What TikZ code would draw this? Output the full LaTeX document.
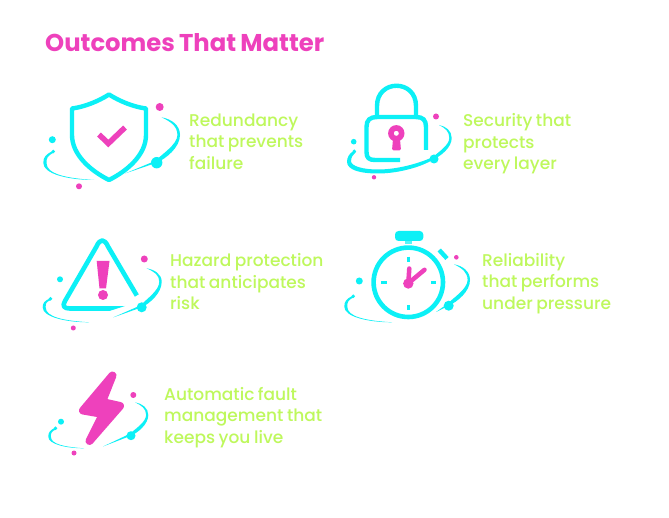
\documentclass[tikz,border=0pt]{standalone}
\usepackage{fontspec}
\setmainfont{Poppins Medium}[BoldFont={Poppins Bold},WordSpace=0.8]
\definecolor{cyanx}{HTML}{0CF0F6}
\definecolor{magx}{HTML}{EE41BC}
\definecolor{limex}{HTML}{BEF85C}
\newcommand\leftsw[7]{%
 \fill[cyanx] (#1,#2) .. controls ({#3+.25*(#1-#3)},{#2+.3*(#4-#2)}) and (#3,{#4-.5*(#4-#2)}) .. (#3,#4)
 .. controls (#3,{#4+.65*(#6-#4)}) and ({#3+.5*(#5-#3)},#6) .. (#5,#6)
 .. controls ({#3+.45*(#5-#3)},{#6-#7*.55}) and ({#3+#7},{#4+.65*(#6-#4)}) .. ({#3+#7},#4)
 .. controls ({#3+#7},{#4-.4*(#4-#2)}) and ({#3+.4*(#1-#3)},{#2+.4*(#4-#2)}) .. ({#1+1.5},{#2+1.5}) -- cycle;
 \fill[cyanx] ({#1+.5},{#2+.5}) circle[radius=1.9];}
\newcommand\rightsw[9]{%
 \fill[cyanx] (#1,#2) .. controls ({#3-.45*(#3-#1)},{#2+.1*(#4-#2)}) and (#3,{#4-.55*(#4-#2)}) .. (#3,#4)
 .. controls (#3,{#4+.45*(#6-#4)}) and ({#5+.4*(#3-#5)},{#6-.15*(#6-#4)}) .. (#5,#6)
 -- (#7,#8) -- ({#5-1},{#6-2})
 .. controls ({#5+.2*(#3-#5)},{#6-.3*(#6-#4)}) and ({#3-#9},{#4+.35*(#6-#4)}) .. ({#3-#9},#4)
 .. controls ({#3-#9},{#4-.5*(#4-#2)}) and ({#3-.5*(#3-#1)},{#2+.25*(#4-#2)}) .. (#1,#2) -- cycle;}
\tikzset{
 cy/.style={draw=cyanx,line width=4.2pt,line cap=round,line join=round},
 mg/.style={draw=magx,line cap=round,line join=round},
 lab/.style={text=limex,anchor=north west,align=left,inner sep=0pt,font=\fontsize{17}{21.6}\selectfont},
 dotc/.style={fill=cyanx},
 dotm/.style={fill=magx}
}
\begin{document}
\begin{tikzpicture}[x=1pt,y=-1pt]
\useasboundingbox (0,0) rectangle (669,518);
\fill[white] (0,0) rectangle (669,518);
\node[anchor=base west,inner sep=0pt,text=magx,font=\bfseries\fontsize{24.3}{28}\selectfont] (title) at (45,51.5) {Outcomes That Matter};

% shield
\draw[cy,line width=4.4pt] (109,94.5) .. controls (120,101.5) and (134,107) .. (146,108.5) -- (146,135)
 .. controls (146,155) and (127,171) .. (109,180) .. controls (91,171) and (72,155) .. (72,135) -- (72,108.5)
 .. controls (84,107) and (98,101.5) .. cycle;
\draw[mg,line width=5.5pt,line cap=butt,line join=miter] (99,134.5) -- (108.3,143.5) -- (125,127.5);
\leftsw{52.7}{151}{43.3}{163}{94}{180}{3.2}
\rightsw{161.5}{117.3}{180}{135}{156.7}{162.7}{125}{173.5}{2.6}
\fill[dotc] (156.7,162.7) circle[radius=5.7];
\fill[dotm] (159.7,107) circle[radius=4];
\fill[dotc] (52.3,139.7) circle[radius=3.5];
\fill[dotm] (79,186.3) circle[radius=3];
\node[lab] (t1) at (189,113.5) {Redundancy\\that prevents\\failure};

% lock
\draw[cy,line width=4.4pt] (377,117) -- (377,106) .. controls (377,79) and (416,79) .. (416,106) -- (416,117);
\draw[cy,line width=4.4pt,line cap=butt] (426,150) -- (426,127) .. controls (426,120) and (423,117) .. (416,117) -- (377,117) .. controls (370,117) and (366.5,120) .. (366.5,127) -- (366.5,152) .. controls (366.5,158) and (369,160) .. (375,160) -- (400,160);
\fill[magx,even odd rule] (396.3,133.3) circle[radius=8.2] (396.3,133.3) circle[radius=2.6];
\fill[magx,rounded corners=1.5pt] (393,139) -- (392,150.5) -- (401,150.5) -- (400,139) -- cycle;
\fill[cyanx] (354,151) .. controls (349,153) and (347,158) .. (347,161.7) .. controls (347,170) and (360,173.5) .. (378,173.5)
 .. controls (398,173.5) and (422,167) .. (434,159) -- (433,157) .. controls (420,163) and (398,169.5) .. (378,169.5)
 .. controls (362,169.5) and (352,166) .. (351,161.7) .. controls (351,157) and (353,154.5) .. (355.5,152.5) -- cycle;
\fill[cyanx] (354.3,151.3) circle[radius=1.9];
\rightsw{439}{125}{451.7}{138}{434}{159}{432}{160}{2.4}
\fill[dotc] (434,159) circle[radius=4.5];
\fill[dotm] (436,116.5) circle[radius=3];
\fill[dotc] (353.7,141.7) circle[radius=2.8];
\fill[dotm] (374,177.3) circle[radius=2.2];
\node[lab] (t2) at (463,113.5) {Security that\\protects\\every layer};

% triangle
\draw[cy,line width=4.6pt,line cap=butt] (136.8,295.5) -- (108,246.5) .. controls (104.5,238.5) and (100,238.5) .. (96.5,246.5) -- (65,301) .. controls (62,306) and (64,308.5) .. (70,308.5) -- (110,308.5);
\fill[cyanx] (110,306.2) -- (125,306) -- (110,310.8) -- cycle;
\fill[magx] (96.7,261) -- (109.5,261) -- (106,288.5) -- (99.5,288.5) -- cycle;
\fill[magx] (103,295) circle[radius=5];
\leftsw{50}{298.3}{42.7}{307.3}{89}{322.3}{3}
\rightsw{146.5}{268.3}{161.7}{281.7}{141.7}{307.3}{113}{317.5}{2.4}
\fill[dotc] (141.7,307.3) circle[radius=5];
\fill[dotm] (144.3,259) circle[radius=3.5];
\fill[dotc] (60,279.3) circle[radius=3];
\fill[dotm] (73.3,328) circle[radius=2.5];
\node[lab] (t3) at (170,253.3) {Hazard protection\\that anticipates\\risk};

% stopwatch
\draw[cyanx,line width=4.6pt] (408.3,282.3) circle[radius=34.7];
\fill[cyanx,rounded corners=3.5pt] (395,231) rectangle (423.3,241);
\fill[cyanx!70] (405,241) rectangle (412.3,244);
\draw[cyanx,line width=4.4pt] (439.2,250) -- (447,258.5);
\foreach \a/\b/\c/\d in {408.3/256.7/408.3/261.7,408.3/305/408.3/310,381/282.3/386.7/282.3,431/282.3/436/282.3}
 \draw[cyanx,line width=2.6pt] (\a,\b) -- (\c,\d);
\draw[mg,line width=4.5pt] (408.3,283.3) -- (409.3,268.5);
\draw[mg,line width=4.5pt] (408.3,283.3) -- (424.5,269.8);
\fill[magx] (408.3,283.5) circle[radius=5.2];
\leftsw{352.7}{295.7}{344.3}{306.7}{392}{322.3}{3}
\rightsw{454}{264.3}{470}{280}{448.7}{305.7}{436}{312}{2.4}
\fill[dotc] (448.7,305.7) circle[radius=5];
\fill[dotm] (456.3,257.3) circle[radius=2.3];
\fill[dotc] (359.3,281) circle[radius=3.5];
\node[lab] (t4) at (482,253) {Reliability\\that performs\\under pressure};

% bolt
\draw[fill=magx,draw=magx,line width=8pt,line join=round] (112.5,375.5) -- (83,410.5) -- (103,414) -- (89.5,441) -- (120,406) -- (102,402) -- cycle;
\leftsw{55}{427.7}{48.3}{436.7}{84}{448.3}{2.6}
\rightsw{135}{402.3}{148.3}{415}{131}{435.7}{103}{446.5}{2.2}
\fill[dotc] (131,435.7) circle[radius=4.5];
\fill[dotm] (133.3,395) circle[radius=3];
\fill[dotc] (61,421.7) circle[radius=3];
\fill[dotm] (74,453) circle[radius=2.5];
\node[lab] (t5) at (164,387) {Automatic fault\\management that\\keeps you live};
\end{tikzpicture}
\end{document}
